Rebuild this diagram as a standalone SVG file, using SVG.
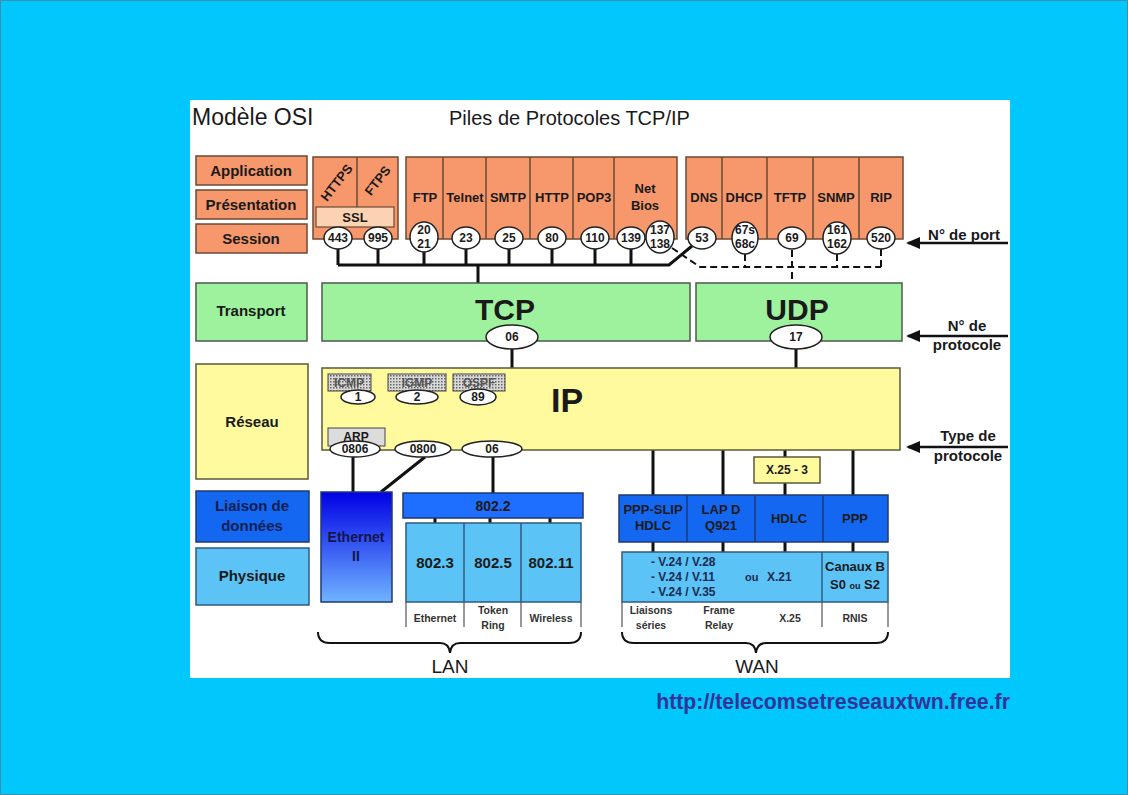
<svg xmlns="http://www.w3.org/2000/svg" width="1128" height="795" viewBox="0 0 1128 795">
<defs>
<style>
text{font-family:"Liberation Sans",Arial,sans-serif;fill:#1a1a1a}
.b{font-weight:bold}
.osi{font-size:15px;font-weight:bold;text-anchor:middle}
.app{font-size:13px;font-weight:bold;text-anchor:middle}
.port{font-size:12px;font-weight:bold;text-anchor:middle}
.sm{font-size:10.5px;font-weight:bold;text-anchor:middle;fill:#333}
.v{font-size:12px;font-weight:bold;fill:#1a2a50}
.or{fill:#F7986C;stroke:#6b4a35;stroke-width:1.5}
.gr{fill:#9EF29E;stroke:#4d5a4d;stroke-width:1.5}
.ye{fill:#FFFA9E;stroke:#5a5a3a;stroke-width:1.5}
.db{fill:#1467F0;stroke:#203a70;stroke-width:1.5}
.lb{fill:#5CC3F7;stroke:#305a80;stroke-width:1.5}
.el{fill:#fff;stroke:#222;stroke-width:1.5}
.ln{stroke:#111;stroke-width:3;fill:none}
.dl{stroke:#111;stroke-width:2;fill:none;stroke-dasharray:7 4}
.thin{stroke:#555;stroke-width:1.2}
.arr{stroke:#111;stroke-width:2.5}
</style>
<linearGradient id="eth" x1="0" y1="0" x2="0" y2="1">
<stop offset="0" stop-color="#0000E6"/>
<stop offset="1" stop-color="#6FB4FF"/>
</linearGradient>
<pattern id="dots" width="3" height="3" patternUnits="userSpaceOnUse">
<rect width="3" height="3" fill="#d8d8d8"/>
<rect width="1.5" height="1.5" fill="#666"/>
</pattern>
<marker id="ah" markerWidth="14" markerHeight="12" refX="12" refY="6" orient="auto" markerUnits="userSpaceOnUse">
<path d="M0,0 L14,6 L0,12 Z" fill="#111"/>
</marker>
</defs>

<rect width="1128" height="795" fill="#00C8FC"/>
<rect x="0.5" y="0.5" width="1127" height="794" fill="none" stroke="#3d8fb0" stroke-width="1"/>
<rect x="190" y="100" width="820" height="578" fill="#fff"/>

<text x="192" y="125" font-size="23">Modèle OSI</text>
<text x="449" y="125" font-size="20">Piles de Protocoles TCP/IP</text>

<g id="osi-application"><rect class="or" x="196" y="156" width="111" height="29"/><text class="osi" x="251" y="176">Application</text></g>
<g id="osi-presentation"><rect class="or" x="196" y="190" width="111" height="29"/><text class="osi" x="251" y="210">Présentation</text></g>
<g id="osi-session"><rect class="or" x="196" y="224" width="111" height="29"/><text class="osi" x="251" y="244">Session</text></g>
<g id="osi-transport"><rect class="gr" x="196" y="283" width="111" height="58"/><text class="osi" x="251" y="316">Transport</text></g>
<g id="osi-reseau"><rect class="ye" x="196" y="364" width="112" height="115"/><text class="osi" x="252" y="427">Réseau</text></g>
<g id="osi-liaison"><rect class="db" x="196" y="491" width="113" height="51"/><text class="osi" x="252" y="511" style="fill:#0e1e50">Liaison de</text><text class="osi" x="252" y="531" style="fill:#0e1e50">données</text></g>
<g id="osi-physique"><rect class="lb" x="196" y="548" width="113" height="57"/><text class="osi" x="252" y="581">Physique</text></g>

<g id="connectors">
<path class="ln" d="M338,249 V265 M378,249 V265 M424,252 V265 M466,249 V265 M509,249 V265 M552,249 V265 M595,249 V265 M631,249 V265 M338,265 H669 L692,246 M478,265 V283"/>
<path class="dl" d="M672,248 L700,267 H881 M745,254 V267 M792,250 V283 M837,254 V267 M881,249 V267"/>
<path class="ln" d="M512,349 V368 M796,349 V368"/>
<path class="ln" d="M353,457 V492 M425,457 L381,492 M493,457 V493"/>
<path class="ln" d="M435,518 V523 M490,518 V523 M550,518 V523"/>
<path class="ln" d="M653,450 V495 M723,450 V495 M785,450 V457 M785,483 V495 M853,450 V495"/>
<path class="ln" d="M653,542 V552 M723,542 V552 M785,542 V552 M853,542 V552"/>
<path class="thin" d="M406,602 V627 M464,602 V627 M521,602 V627 M581,602 V627 M622,602 V627 M822,602 V627 M888,602 V627"/>
<path d="M318,632 Q318,643 330,643 H440 Q449,643 450,653 Q451,643 460,643 H569 Q581,643 581,632" fill="none" stroke="#111" stroke-width="2"/>
<path d="M622,632 Q622,643 634,643 H746 Q755,643 756,653 Q757,643 766,643 H876 Q888,643 888,632" fill="none" stroke="#111" stroke-width="2"/>
<line class="arr" x1="1008" y1="243" x2="908" y2="243" marker-end="url(#ah)"/>
<line class="arr" x1="1008" y1="336" x2="908" y2="336" marker-end="url(#ah)"/>
<line class="arr" x1="1008" y1="447" x2="908" y2="447" marker-end="url(#ah)"/>
</g>

<g id="https-ftps">
<rect class="or" x="313" y="157" width="85" height="82"/>
<line x1="357" y1="157" x2="357" y2="207" stroke="#6b4a35" stroke-width="1.5"/>
<text class="app" transform="translate(337,183) rotate(-52)" y="4">HTTPS</text>
<text class="app" transform="translate(378,181) rotate(-52)" y="4">FTPS</text>
<rect x="316" y="207" width="78" height="20" fill="#FBD3B3" stroke="#6b4a35" stroke-width="1.2"/>
<text class="app" x="355" y="222">SSL</text>
</g>

<g id="tcp-apps">
<rect class="or" x="406" y="157" width="271" height="82"/>
<path d="M443,157 V239 M486,157 V239 M530,157 V239 M573,157 V239 M614,157 V239" stroke="#6b4a35" stroke-width="1.5"/>
<text class="app" x="425" y="202">FTP</text>
<text class="app" x="465" y="202">Telnet</text>
<text class="app" x="508" y="202">SMTP</text>
<text class="app" x="552" y="202">HTTP</text>
<text class="app" x="594" y="202">POP3</text>
<text class="app" x="645" y="193">Net</text>
<text class="app" x="645" y="210">Bios</text>
</g>

<g id="udp-apps">
<rect class="or" x="686" y="157" width="217" height="82"/>
<path d="M722,157 V239 M767,157 V239 M813,157 V239 M859,157 V239" stroke="#6b4a35" stroke-width="1.5"/>
<text class="app" x="704" y="202">DNS</text>
<text class="app" x="744" y="202">DHCP</text>
<text class="app" x="790" y="202">TFTP</text>
<text class="app" x="836" y="202">SNMP</text>
<text class="app" x="881" y="202">RIP</text>
</g>

<g id="ports">
<ellipse class="el" cx="338" cy="238" rx="14" ry="11"/><text class="port" x="338" y="242">443</text>
<ellipse class="el" cx="378" cy="238" rx="14" ry="11"/><text class="port" x="378" y="242">995</text>
<ellipse class="el" cx="424" cy="237" rx="14" ry="15"/><text class="port" x="424" y="234">20</text><text class="port" x="424" y="248">21</text>
<ellipse class="el" cx="466" cy="238" rx="14" ry="11"/><text class="port" x="466" y="242">23</text>
<ellipse class="el" cx="509" cy="238" rx="14" ry="11"/><text class="port" x="509" y="242">25</text>
<ellipse class="el" cx="552" cy="238" rx="14" ry="11"/><text class="port" x="552" y="242">80</text>
<ellipse class="el" cx="595" cy="238" rx="14" ry="11"/><text class="port" x="595" y="242">110</text>
<ellipse class="el" cx="631" cy="238" rx="14" ry="11"/><text class="port" x="631" y="242">139</text>
<ellipse class="el" cx="660" cy="237" rx="14" ry="16"/><text class="port" x="660" y="234">137</text><text class="port" x="660" y="248">138</text>
<ellipse class="el" cx="702" cy="238" rx="14" ry="11"/><text class="port" x="702" y="242">53</text>
<ellipse class="el" cx="745" cy="238" rx="13" ry="16"/><text class="port" x="745" y="234">67s</text><text class="port" x="745" y="248">68c</text>
<ellipse class="el" cx="792" cy="238" rx="14" ry="11"/><text class="port" x="792" y="242">69</text>
<ellipse class="el" cx="837" cy="238" rx="14" ry="16"/><text class="port" x="837" y="234">161</text><text class="port" x="837" y="248">162</text>
<ellipse class="el" cx="881" cy="238" rx="14" ry="11"/><text class="port" x="881" y="242">520</text>
</g>

<g id="tcp"><rect class="gr" x="322" y="283" width="368" height="58"/><text x="505" y="320" font-size="30" class="b" text-anchor="middle">TCP</text>
<ellipse class="el" cx="512" cy="337" rx="26" ry="12"/><text class="port" x="512" y="341">06</text></g>
<g id="udp"><rect class="gr" x="696" y="283" width="206" height="58"/><text x="797" y="320" font-size="30" class="b" text-anchor="middle">UDP</text>
<ellipse class="el" cx="796" cy="337" rx="26" ry="12"/><text class="port" x="796" y="341">17</text></g>

<g id="ip">
<rect class="ye" x="322" y="368" width="578" height="82"/>
<text x="567" y="412" font-size="34" class="b" text-anchor="middle">IP</text>
</g>
<g id="icmp"><rect x="328" y="374" width="43" height="17" fill="url(#dots)" stroke="#444" stroke-width="1"/><text class="port" x="349" y="387" style="fill:#555">ICMP</text>
<ellipse class="el" cx="358" cy="397" rx="17" ry="7"/><text class="port" x="358" y="401">1</text></g>
<g id="igmp"><rect x="388" y="374" width="58" height="17" fill="url(#dots)" stroke="#444" stroke-width="1"/><text class="port" x="417" y="387" style="fill:#555">IGMP</text>
<ellipse class="el" cx="417" cy="397" rx="21" ry="7"/><text class="port" x="417" y="401">2</text></g>
<g id="ospf"><rect x="453" y="374" width="52" height="17" fill="url(#dots)" stroke="#444" stroke-width="1"/><text class="port" x="479" y="387" style="fill:#555">OSPF</text>
<ellipse class="el" cx="478" cy="397" rx="18" ry="8"/><text class="port" x="478" y="401">89</text></g>
<g id="arp"><rect x="328" y="428" width="57" height="18" fill="#DCDCDC" stroke="#444" stroke-width="1"/><text class="port" x="356" y="441">ARP</text></g>
<g id="ethertypes">
<ellipse class="el" cx="355" cy="449" rx="25" ry="8"/><text class="port" x="355" y="453">0806</text>
<ellipse class="el" cx="423" cy="449" rx="28" ry="8"/><text class="port" x="423" y="453">0800</text>
<ellipse class="el" cx="492" cy="449" rx="30" ry="8"/><text class="port" x="492" y="453">06</text>
</g>

<g id="ethernet2"><rect x="321" y="492" width="71" height="110" fill="url(#eth)" stroke="#203a70" stroke-width="1.5"/>
<text class="app" x="356" y="542" style="font-size:14px;fill:#15154a">Ethernet</text><text class="app" x="356" y="561" style="font-size:14px;fill:#15154a">II</text></g>
<g id="ieee8022"><rect class="db" x="403" y="493" width="180" height="25" style="fill:#1E6EFF"/><text class="app" x="493" y="511" style="font-size:14px">802.2</text></g>
<g id="ieee-phy"><rect class="lb" x="406" y="523" width="175" height="79"/>
<path d="M464,523 V602 M521,523 V602" stroke="#305a80" stroke-width="1.5"/>
<text class="app" x="435" y="568" style="font-size:15px">802.3</text>
<text class="app" x="493" y="568" style="font-size:15px">802.5</text>
<text class="app" x="551" y="568" style="font-size:15px">802.11</text>
<text class="sm" x="435" y="622">Ethernet</text>
<text class="sm" x="493" y="614">Token</text><text class="sm" x="493" y="629">Ring</text>
<text class="sm" x="551" y="622">Wireless</text>
</g>
<text x="450" y="673" font-size="19" text-anchor="middle">LAN</text>

<g id="x25-3"><rect class="ye" x="754" y="457" width="66" height="26"/><text class="port" x="787" y="474">X.25 - 3</text></g>
<g id="wan-link"><rect class="db" x="619" y="495" width="269" height="47"/>
<path d="M687,495 V542 M755,495 V542 M823,495 V542" stroke="#203a70" stroke-width="1.5"/>
<text class="app" x="653" y="514">PPP-SLIP</text><text class="app" x="653" y="530">HDLC</text>
<text class="app" x="721" y="514">LAP D</text><text class="app" x="721" y="530">Q921</text>
<text class="app" x="789" y="523">HDLC</text>
<text class="app" x="855" y="523">PPP</text>
</g>
<g id="wan-phy"><rect class="lb" x="622" y="552" width="266" height="50"/>
<line x1="822" y1="552" x2="822" y2="602" stroke="#305a80" stroke-width="1.5"/>
<text class="v" x="651" y="566">- V.24 / V.28</text>
<text class="v" x="651" y="581">- V.24 / V.11</text>
<text class="v" x="651" y="596">- V.24 / V.35</text>
<text class="v" x="745" y="581" style="font-size:11px">ou</text>
<text class="v" x="767" y="581">X.21</text>
<text class="app" x="855" y="571">Canaux B</text>
<text class="app" x="855" y="589">S0 <tspan style="font-size:9px">ou</tspan> S2</text>
<text class="sm" x="651" y="614">Liaisons</text><text class="sm" x="651" y="629">séries</text>
<text class="sm" x="719" y="614">Frame</text><text class="sm" x="719" y="629">Relay</text>
<text class="sm" x="790" y="622">X.25</text>
<text class="sm" x="855" y="622">RNIS</text>
</g>
<text x="757" y="673" font-size="19" text-anchor="middle">WAN</text>

<text class="b" x="964" y="240" font-size="15" text-anchor="middle">N° de port</text>
<text class="b" x="967" y="331" font-size="15" text-anchor="middle">N° de</text>
<text class="b" x="967" y="350" font-size="15" text-anchor="middle">protocole</text>
<text class="b" x="968" y="441" font-size="15" text-anchor="middle">Type de</text>
<text class="b" x="968" y="461" font-size="15" text-anchor="middle">protocole</text>

<text class="b" x="1010" y="709" font-size="21.3" text-anchor="end" style="fill:#333399">http://telecomsetreseauxtwn.free.fr</text>
</svg>
